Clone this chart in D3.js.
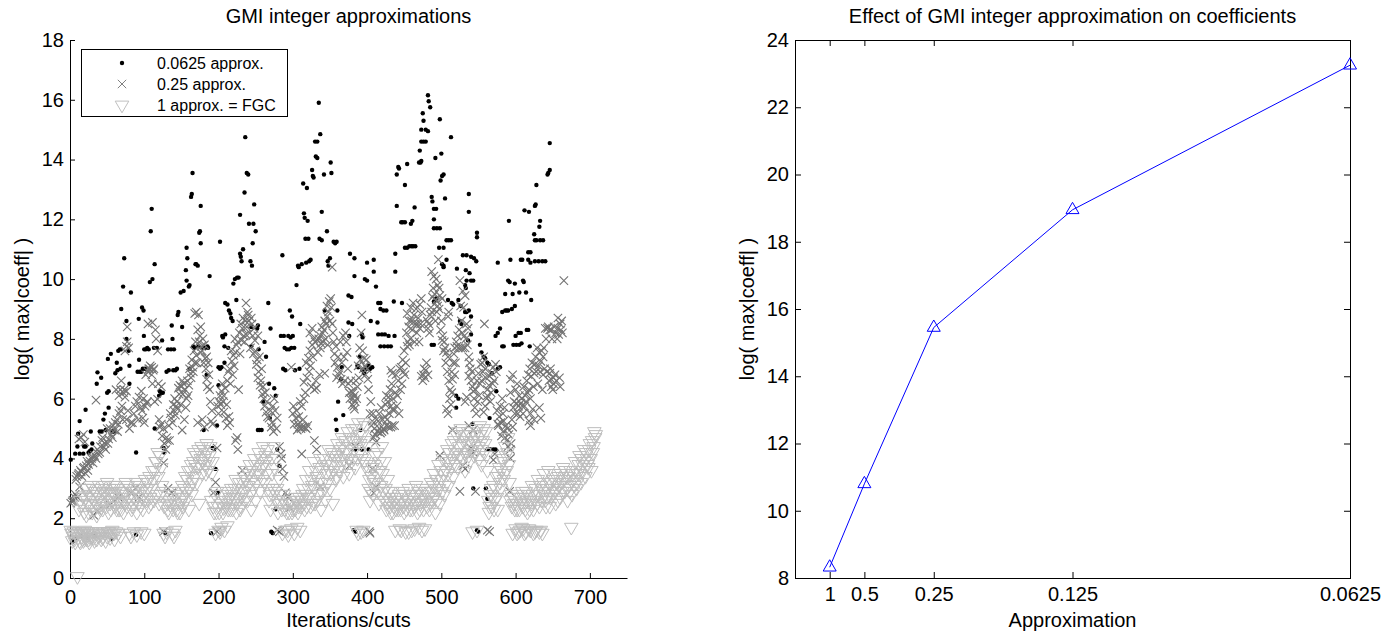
<!DOCTYPE html>
<html>
<head>
<meta charset="utf-8">
<script src="https://cdn.jsdelivr.net/npm/d3@7"></script>
<style>
  body { margin: 0; background: #fff; }
  svg { font-family: "Liberation Sans", Arial, Helvetica, sans-serif; }
</style>
</head>
<body>
<div id="wrapper"></div>
<script>
// left panel: log(max|coeff|) per iteration, three approximation levels
const dotsApprox0625 = [
  [1,3.96],[3,1.2],[5,1.3],[7,4.16],[8,1.35],[10,4.4],[11,4.83],[13,4.16],[13,5.25],[15,1.4],[18,4.16],[19,4.4],[21,4.4],[21,5.63],[24,1.35],[25,4.2],[27,4.25],[28,4.9],[29,4.3],[30,4.5],[33,1.4],[36,6.5],[37,6.88],[40,4.9],[42,6.7],[43,4.9],[45,5.3],[47,5.5],[48,4.95],[50,6.2],[51,7.33],[52,6.25],[52,5.7],[55,7.5],[56,1.3],[57,4.9],[59,4.9],[61,6.85],[63,7.2],[64,6.95],[65,7.6],[67,7.65],[68,7.0],[69,9.0],[69,7.65],[71.5,9.75],[73,10.7],[76,8.6],[76,8.0],[79,7.6],[80,7.1],[80,6.5],
  [82,9.55],[89,4.2],[89,1.45],[91,6.9],[92.6,8.67],[93,7.3],[94,6.9],[96,6.9],[97,9.05],[99,8.95],[99.5,8.1],[100,7.65],[98,7.0],[101,7.0],[102,7.65],[104,7.7],[106,7.65],[107.5,9.9],[108.7,11.6],[110,12.35],[111,10.0],[113,7.7],[114,10.5],[114,5.0],[117,7.7],[120,6.1],[121,6.25],[123,6.2],[124,7.95],[125,6.2],[126,4.35],[127,4.2],[128,1.5],
  [130,6.9],[132,7.65],[133,6.95],[136,7.65],[137,8.45],[138,8.0],[139,6.95],[140,7.65],[142,6.95],[144,7.0],[145,8.8],[146,8.9],[149,9.55],[151,8.4],[153,9.6],[156,10.3],[157,9.95],[157,11.05],[158,10.7],[160,9.75],[161,9.8],[161,7.0],[163,12.75],[164,12.85],[165,13.55],[166,7.75],[168,7.7],[169,10.5],[170,10.5],[172,10.45],[173,7.75],[174,11.55],[175,11.6],[176,12.45],[176,11.2],[179,7.7],[180,4.95],[182,7.7],[184,6.8],[185,7.75],[186,7.7],[188,10.1],[190,1.5],[192,4.35],[194,4.3],[196,3.65],[198,5.1],[199,2.85],[200,6.45],[200,7.05],[202,7.0],[202,11.25],[204,7.05],
  [205,8.1],[206,8.05],[208,7.75],[208,7.2],[209,8.15],[209,9.2],[212,9.15],[213,7.7],[214,8.95],[216,8.85],[217,8.7],[219,8.6],[220,9.85],[222,10.0],[224,9.3],[225,10.05],[227,10.05],[229,10.85],[230,10.75],[231,10.6],[229,12.15],[233,11.0],[235,12.9],[236,14.75],[238,13.55],[240,13.5],[241,11.85],[243,10.6],[244,8.4],[244,7.75],[245,10.45],[246,11.2],[247,11.85],[248,12.5],[250,11.6],[252,8.35],[253,8.45],[254,7.65],[253,4.95],[255,4.95],[258,4.95],[260,5.9],[262,7.9],[264,7.4],
  [267,9.2],[268,6.5],[269,5.35],[270,8.35],[271,1.55],[273,1.5],[275,6.35],[277,6.1],[277,2.3],[279,4.3],[282,3.75],[284,8.1],[286,10.8],[287,7.0],[288,8.1],[289,7.7],[290,6.95],[292,7.65],[294,8.1],[295,7.65],[296,8.95],[297,8.05],[298,7.7],[299,8.75],[300,8.1],[302,7.7],[303,6.95],
  [305,9.8],[307,10.45],[308,10.4],[309,7.0],[310,8.5],[312,10.5],[314,13.2],[315,12.2],[316,12.05],[317,11.35],[318,10.55],[319,13.05],[320,11.95],[321,11.35],[322,10.6],[324,10.65],[326,13.65],[327,13.45],[328,13.4],[330,14.6],[331,14.1],[333,14.6],[333,14.05],[335,15.9],[337,14.85],[336,11.35],[339,11.3],[339,12.25],[342,13.5],[343,8.95],[346,11.6],[347,10.6],[348,10.45],[350,10.7],[351,13.9],[352,13.55],[355,11.25],[357,11.2],[359,11.25],[358,5.3],[359,4.95],[360,8.95],[361,5.9],[365,6.65],[366,7.05],[368,5.45],
  [375,9.45],[379,9.4],[375,8.55],[376,8.1],[377,10.85],[380,8.5],[383,10.7],[383,10.1],[382,1.6],[384,1.55],[387,7.1],[388,7.05],[390,7.4],[393,8.15],[394,8.05],[394,6.95],[396,6.85],[399,7.0],[397,10.0],[400,10.55],[400,9.95],[402,7.1],[404,7.0],[405,8.6],[407,7.05],[409,10.65],[409,10.25],[412,9.75],[415,9.2],[418,9.2],[418,9.0],[422,8.95],[426,8.95],[414,8.55],[415,8.15],[420,8.15],[424,8.15],[429,8.1],[418,7.75],[423,7.75],[428,7.75],[432,7.75],[436,9.25],[437,8.1],[438,10.25],[438,10.85],[440,12.45],[440,13.5],[442,13.75],[443,13.7],[446,11.9],[447,9.2],[448,11.9],[451,11.9],[451,13.15],[454,13.85],[451,11.05],[454,11.05],[457,11.1],
  [384,4.3],[391,4.95],[393,4.3],[402,4.3],
  [460,11.1],[462,11.1],[465,11.1],[464,12.4],[459,11.85],[461,11.95],[470,13.9],[472,13.9],[473,13.95],[471,14.3],[473,14.6],[476,14.6],[479,14.6],[473,15.0],[476,15.3],[475,15.55],[479,15.0],[482,14.95],[482,16.15],[483,15.95],[485,15.75],[490,12.35],[493,12.35],[490,12.0],[490,11.7],[494,11.7],[498,11.7],[492,14.05],[498,15.35],[487,12.75],[488,12.6],[497,11.05],[503,11.05],[503,10.45],[507,10.65],[509,9.3],[490,9.25],[493,9.35],[487,7.8],[490,7.8],
  [500,14.2],[499,13.3],[501,13.45],[503,13.5],[505,12.7],[507,11.3],[510,11.3],[513,11.3],[513,14.75],[501,10.5],[503,10.4],[514,9.2],[516,9.15],[521,10.35],[523,9.3],[526,9.1],[525,8.6],[527,8.5],[520,6.1],[523,6.0],[520,5.7],[532,8.9],[534,8.9],[537,8.95],[532,9.8],[533,9.7],[529,10.8],[534,10.8],[534,9.95],[540,9.95],[533,10.3],[538,10.2],[537,12.85],[537,12.25],[540,10.75],[544,10.7],[547,10.6],[543,9.95],[548,11.55],[548,11.4],[540,8.75],[540,8.15],[536,7.95],[542,5.15],[543,3.0],[548,1.6],[550,1.55],
  [552,7.8],[554,7.55],[557,7.4],[559,7.35],[562,7.2],[564,7.15],[565,5.35],[562,2.65],[560,3.0],[562,4.3],[566,4.3],[570,4.3],[573,4.3],[568,6.85],[576,10.55],[573,8.1],[576,8.2],[579,8.35],[576,7.0],[579,7.05],[574,6.25],[582,7.75],[584,7.75],[582,8.9],[586,8.95],[588,8.95],[590,8.95],[586,9.5],[590,9.95],[592,9.9],[591,11.95],[593,10.65],[595,9.0],[599,9.1],[596,9.5],[597,7.8],[601,7.8],[599,9.85],[600,8.1],[605,9.55],[607,10.65],[609,10.65],[604,8.2],[607,8.2],[605,7.8],[608,7.85],[610,9.95],[611,9.9],[614,9.55],[617,10.65],[620,10.55],[612,12.3],[618,12.25],[617,10.9],[620,10.9],[619,7.75],[621,9.3],[626,12.45],[627,12.5],[628,13.15],[625,11.5],[626,11.3],[628,11.3],[633,11.3],[637,11.3],[626,10.6],[631,10.6],[636,10.6],[640,10.6],[632,11.75],[633,11.95],[643,13.5],[644,13.55],[646,13.65],[646,14.55],[615,8.3],[617,8.3]
]

const crossesApprox025 = [
  [1,2.5],[4,2.6],[7,2.8],[10,2.7],[13,3.05],[9,3.4],[12,3.5],[15,3.55],[18,3.67],[21,3.5],[12,4.65],[18,4.8],[23,3.9],[29,4.0],[35,4.0],[37,4.3],[35,5.95],[43,4.6],[48,4.3],[51,4.5],[57,4.7],[60,4.95],[63,5.3],[65,5.15],[68,6.3],[69,6.6],[73,6.3],[76,6.25],[71,5.3],[76,5.3],[76,7.75],[77,7.9],[77,8.4],[82,5.2],[88,5.75],[93,6.05],[96,6.25],[98,5.35],[101,5.75],[104,5.9],[107,7.0],[112,6.95],[111,8.55],[115,8.3],[114,5.9],[118,5.98],[119,6.5],[123,6.4],[123,5.15],[126,5.0],[129,4.3],[131,4.6],[134,4.6],[136,5.35],[140,5.6],[143,5.75],[144,5.9],[147,6.15],[148,6.45],[151,6.6],[154,5.3],[151,4.95],[157,6.0],[159,6.1],[162,6.85],[165,7.05],[168,7.2],[168,8.85],[170,8.9],[173,8.8],[170,7.45],[176,7.55],[175,8.1],[179,8.0],[177,7.75],[182,7.35],[184,7.4],[184,6.65],[187,6.8],[189,5.9],[190,5.25],[192,5.15],[193,2.85],[196,3.2],[198,1.55],[199,5.75],[201,5.9],[204,6.25],[207,6.1],[207,5.55],[210,5.35],[212,5.1],[215,5.2],[212,6.6],[215,7.0],[218,7.25],[220,7.45],[223,7.55],[223,4.6],[225,4.7],[226,4.3],[227,6.3],[231,7.95],[234,8.1],[237,8.15],[237,9.2],[240,8.8],[241,8.6],[245,8.5],[248,8.35],[249,7.95],[253,8.1],[251,7.15],[253,6.7],[256,6.45],[259,6.15],[262,5.75],[264,5.55],[268,5.35],[271,5.05],[273,5.75],[275,6.0],[279,5.35],[282,4.4],[284,4.15],[286,3.65],[290,2.85],[279,1.6],[282,1.55],[296,2.35],[298,7.05],[301,5.75],[304,5.35],[307,5.15],[309,5.05],[313,5.05],[318,5.0],[312,5.75],[315,6.0],[315,6.55],[318,7.2],[321,7.35],[323,7.6],[326,7.8],[323,8.2],[326,8.35],[329,4.6],[329,6.3],[332,6.35],[334,7.55],[337,7.7],[337,8.1],[340,8.2],[343,8.6],[346,8.75],[343,6.85],[346,9.1],[349,9.25],[351,9.35],[353,10.4],[354,8.2],[357,7.2],[360,7.05],[362,6.8],[365,6.65],[368,8.1],[371,8.2],[369,7.4],[373,7.55],[376,6.2],[379,6.25],[381,6.0],[384,5.9],[382,5.75],[383,5.65],[387,6.4],[390,7.7],[393,8.8],[396,7.35],[397,7.1],[400,7.0],[401,6.65],[403,1.55],[404,5.5],[407,5.25],[409,4.7],[412,4.55],[412,3.05],[415,5.25],[418,4.85],[420,4.9],[423,4.95],[426,5.1],[429,5.05],[432,5.05],[434,5.1],[437,5.1],[426,6.1],[429,6.05],[432,5.75],[434,5.65],[432,6.95],[434,6.85],[440,5.75],[443,5.5],[446,7.05],[447,6.5],[451,6.8],[454,7.75],[455,7.9],[457,7.8],[454,8.85],[457,8.6],[459,9.05],[462,9.2],[465,8.5],[468,8.5],[471,8.35],[471,9.15],[473,9.35],[473,6.75],[476,6.8],[479,6.95],[482,6.8],[482,8.35],[484,8.2],[486,9.05],[487,8.9],[487,10.25],[490,10.1],[493,10.0],[495,9.8],[497,9.7],[493,9.3],[494,9.25],[496,10.65],[498,9.45],[501,9.35],[501,7.95],[504,7.9],[507,7.55],[509,7.4],[509,8.75],[510,8.9],[507,5.65],[509,5.5],[512,6.3],[514,6.2],[515,6.65],[518,6.8],[518,7.7],[521,7.75],[523,7.7],[526,7.7],[529,7.7],[532,7.7],[525,9.95],[529,9.6],[532,9.45],[526,9.1],[530,9.05],[534,8.5],[536,8.35],[537,7.4],[537,6.75],[540,6.6],[534,6.05],[532,5.9],[537,5.1],[543,4.95],[529,3.75],[525,2.9],[532,3.65],[540,4.35],[543,4.2],[543,6.25],[546,6.3],[548,6.6],[550,6.85],[553,7.15],[555,7.2],[557,7.4],[558,8.5],[557,5.55],[559,5.75],[561,6.0],[562,6.1],[562,6.3],[564,6.45],[565,6.75],[568,6.85],[570,7.05],[573,7.15],[562,1.6],[565,1.55],[570,3.95],[572,4.15],[576,5.15],[577,5.1],[579,5.75],[582,6.0],[581,4.75],[583,4.9],[584,5.25],[587,5.1],[590,4.4],[593,4.3],[592,2.9],[596,5.05],[596,6.8],[593,6.65],[593,6.2],[597,5.7],[598,5.9],[601,5.85],[604,5.75],[607,5.85],[609,5.75],[612,5.75],[614,5.9],[616,6.2],[618,6.3],[618,5.25],[620,5.1],[620,5.5],[623,5.65],[621,6.75],[625,6.85],[626,7.15],[627,7.4],[629,7.7],[632,7.55],[632,5.7],[634,5.35],[634,7.25],[637,7.4],[637,6.8],[640,8.35],[643,8.35],[644,8.4],[646,8.3],[648,8.3],[646,6.85],[648,6.65],[651,6.7],[648,6.4],[651,6.5],[654,8.2],[657,8.35],[657,8.7],[658,8.15],[660,8.5],[662,8.6],[665,9.95],
  [32,2.1],[37,2.25],[54,2.45],[65,2.7],[82,2.85],[88,3.0],[93,2.7],[126,3.85],[132,3.0],[137,2.85],[126,1.55],[198,4.35],[232,3.6],[293,2.7],[312,4.15],[332,4.3],[337,3.05],[376,3.75],[384,4.4],[404,1.5],[407,3.65],[409,2.85],[498,4.1],[515,4.95],[546,2.9],[593,4.0],
  [40,4.2],[45,4.4],[50,5.0],[55,4.8],[25,3.8],[30,4.05],[68,5.6],[97,5.6],[103,5.85],[105,8.5],[106,7.0],[110,7.05],[111,6.5],
  [3,2.55],[6,2.7],[8,3.3],[11,3.45],[14,3.6],[16,3.4],[19,3.7],[22,3.75],[24,3.6],[27,3.9],[31,3.85],[33,4.1],[38,4.15],[41,4.4],[20,4.55],[15,4.7],
  [44,4.7],[47,4.5],[52,4.65],[54,5.0],[58,5.1],[61,5.2],[64,4.9],[66,5.5],[70,5.75],[72,6.2],[74,6.05],[78,5.6],[80,5.0],[84,5.2],[86,5.5],[90,5.9],[92,5.3],[95,5.7],[99,6.0],[100,5.2],[62,6.3],[66,6.1],[74,7.6],[79,7.7],
  [102,6.8],[105,6.9],[108,7.1],[110,6.8],[113,7.0],[116,8.0],[118,7.6],[120,5.3],[121,5.05],[124,4.75],[127,4.5],[130,4.7],[133,5.1],[135,5.5],[138,5.2],[139,5.8],[141,6.0],[142,5.45],[145,5.65],[146,6.35],[149,5.8],[150,6.4],[152,6.15],[153,6.5],[155,6.3],[156,5.7],[158,6.6],[160,6.45],[161,7.0],[163,6.7],[164,7.3],[166,6.9],[167,7.6],[169,7.9],[171,7.2],[172,8.3],[174,7.9],[176,8.4],[178,7.6],[180,7.2],[181,7.8],[183,7.0],[185,6.4],[186,7.2],[188,6.3],[191,5.6],[178,5.3],[181,5.05],[172,5.2],
  [200,5.5],[202,6.1],[203,5.8],[205,6.5],[206,5.9],[209,6.35],[211,5.8],[213,6.9],[214,5.4],[216,6.5],[217,7.6],[219,6.8],[221,7.1],[222,8.0],[224,7.8],[226,7.9],[228,8.2],[229,7.5],[230,8.5],[232,8.35],[233,8.7],[235,7.9],[236,8.6],[238,8.4],[239,8.9],[242,8.2],[243,7.7],[244,8.7],[246,8.1],[247,7.5],[250,7.6],[252,7.3],[254,6.9],[255,7.4],[257,6.6],[258,7.0],[260,6.4],[261,6.0],[263,6.2],[265,5.9],[266,5.4],[270,5.6],[272,5.2],[274,4.9],[276,5.6],[278,5.0],
  [285,4.0],[288,3.4],[300,5.5],[302,5.15],[305,5.6],[306,4.95],[308,5.4],[310,5.9],[311,5.0],[314,5.3],[316,5.05],[317,6.2],[319,6.7],[320,5.1],[322,6.9],[324,7.1],[325,6.4],[327,7.4],[328,8.0],[330,7.9],[331,6.6],[333,7.95],[335,8.0],[336,6.8],[338,7.85],[339,8.4],[341,7.9],[342,8.3],[344,8.0],[345,8.5],[347,7.8],[348,8.9],[350,8.6],[352,9.05],[353,8.5],[355,7.9],[356,7.5],[358,7.75],[359,6.7],[361,7.4],[363,6.9],[364,7.9],[366,7.2],
  [367,6.5],[370,6.6],[372,7.9],[374,7.0],[375,6.5],[377,6.0],[378,6.6],[380,5.8],[381,6.2],[383,6.1],[385,6.6],[386,6.0],[388,7.1],[389,6.7],[391,7.3],[392,8.2],[394,7.6],[395,7.0],[398,6.8],[399,7.3],[402,6.3],[405,5.9],[406,5.1],[408,5.5],[410,5.0],[411,4.8],[413,5.3],[414,4.9],[416,5.5],[417,5.0],[419,5.7],[421,5.3],[422,5.0],[424,5.4],[425,5.8],[427,5.3],[428,5.9],[430,5.5],[431,6.3],[433,6.5],[435,6.0],[436,5.6],[438,6.2],[439,6.8],[441,6.1],[442,6.6],[444,7.0],[445,6.3],[448,7.3],[449,6.9],[450,7.6],[452,7.2],[453,8.2],[456,8.4],[458,8.0],
  [460,8.6],[461,8.3],[463,8.8],[464,7.9],[466,9.0],[467,8.2],[469,8.7],[470,7.9],[472,8.5],[474,8.9],[475,6.6],[477,7.0],[478,6.7],[480,7.2],[481,8.6],[483,8.5],[485,8.8],[488,9.4],[489,9.7],[491,9.5],[492,8.6],[494,8.9],[495,9.1],[497,9.0],[499,8.3],[500,8.6],[502,8.1],[503,7.6],[505,7.7],[506,7.2],[508,6.9],[510,6.6],[511,6.0],[513,5.8],[514,6.9],[516,7.2],[517,7.5],[519,7.2],[520,7.9],[522,8.1],[524,8.3],[527,8.6],[528,8.2],[531,8.1],[533,8.0],[535,7.8],[538,7.2],[539,7.0],[541,6.9],[542,6.4],[544,6.0],[545,5.7],[547,5.5],[549,5.9],[551,6.1],[552,6.5],[554,6.6],[556,6.9],[559,7.0],[560,6.7],
  [566,5.9],[567,6.2],[569,6.5],[571,6.6],[574,6.9],[575,5.6],[578,5.4],[580,5.2],[583,5.5],[585,5.7],[586,4.7],[588,4.6],[589,5.0],[591,4.8],[594,4.5],[595,5.3],[599,5.5],[600,6.3],[602,6.5],[603,5.5],[605,6.1],[606,5.4],[608,6.0],[610,5.5],[611,6.4],[613,6.1],[615,6.6],[617,6.8],[619,7.0],[620,6.0],[622,7.2],[624,6.4],[625,5.3],[628,6.9],[630,6.5],[631,7.1],[633,6.9],[635,7.6],[636,6.3],[638,7.7],[639,7.0],[641,8.0],[642,6.9],[645,6.6],[647,7.0],[649,8.0],[650,6.3],[652,8.4],[653,6.8],[655,6.6],[656,8.0],[659,6.7],[660,6.4],[661,8.3],[663,8.2]
]

const trianglesFgc = [
  [2,1.5],[4,1.4],[6,1.3],[8,1.45],[10,0.05],[11,1.35],[13,1.25],[15,1.4],[17,1.3],[19,1.5],[21,1.35],[23,1.45],[25,1.3],[27,1.5],[29,1.4],[32,1.35],[35,1.5],[38,1.4],[41,1.45],[44,1.35],[47,1.5],[50,1.4],[53,1.55],[56,1.45],[59,1.5],[62,1.55],
  [14,2.6],[17,2.75],[20,3.0],[22,2.1],[24,2.5],[26,2.8],[28,3.1],[30,2.2],[32,2.6],[34,2.9],[36,2.1],[38,2.4],[40,2.7],[42,3.0],[44,2.3],[46,2.6],[48,2.9],[50,3.2],[52,2.2],[54,2.5],[56,2.8],[58,3.1],[60,2.4],[62,2.7],[64,3.0],[66,2.3],[68,2.6],[70,2.9],
  [72,2.2],[74,2.5],[76,2.8],[78,3.1],[80,1.5],[82,1.4],[86,1.55],[90,1.45],[96,1.55],[100,1.5],[84,2.4],[86,2.7],[88,3.0],[90,2.2],[92,2.5],[94,2.8],[98,2.3],[100,2.6],[102,2.9],[104,3.2],[106,2.4],[108,2.7],[110,3.0],[112,3.3],[114,3.6],[116,3.9],[118,4.2],[120,2.5],[122,2.8],[124,3.1],[126,1.5],[128,1.4],[130,1.55],[132,2.3],[134,2.6],[136,2.9],
  [138,1.5],[140,1.4],[142,1.6],[144,2.3],[146,2.5],[148,2.2],[150,2.7],[152,2.4],[154,3.0],[156,2.6],[158,3.3],[160,2.3],[162,3.6],[164,2.8],[166,3.9],[168,3.4],[170,4.1],[172,3.7],[174,2.5],[176,4.0],[178,3.5],[180,4.3],[182,3.8],[184,4.5],[186,3.6],[188,4.1],[190,2.6],[192,3.9],[194,2.2],[196,1.5],[198,2.9],[200,1.6],
  [202,1.55],[204,1.7],[206,2.2],[208,1.6],[210,2.4],[212,1.75],[214,2.6],[216,2.3],[218,2.8],[220,2.5],[222,3.0],[224,2.2],[226,2.7],[228,3.2],[230,2.4],[232,2.9],[234,3.4],[236,2.6],[238,3.6],[240,3.1],[242,3.8],[244,2.3],[246,3.3],[248,4.0],[250,2.6],[252,3.5],[254,4.2],[256,2.9],[258,3.7],[260,4.4],[262,3.2],[264,3.9],[266,4.3],[268,2.6],
  [270,2.3],[272,3.5],[274,4.4],[276,2.9],[278,4.0],[280,2.2],[282,3.3],[284,2.5],[286,1.5],[288,2.8],[290,1.6],[292,2.2],[294,1.45],[296,2.5],[298,1.65],[300,2.3],[302,1.5],[304,2.7],[306,1.7],[308,2.4],[310,1.6],
  [312,2.6],[314,3.0],[316,2.3],[318,3.3],[320,2.7],[322,3.6],[324,2.4],[326,3.1],[328,3.9],[330,2.5],[332,3.4],[334,2.8],[336,3.7],[338,2.3],[340,3.2],[342,4.0],[344,2.6],[346,3.5],[348,4.3],[350,3.0],[352,3.8],[354,2.5],[356,4.1],[358,3.3],[360,4.5],[362,3.6],[364,4.0],[366,4.7],[368,3.4],[370,4.2],[372,3.8],[374,4.9],[376,3.5],[378,4.4],[380,5.0],[382,4.0],[384,3.7],[386,4.6],[388,5.2],[390,4.2],[392,1.55],[394,4.8],[396,3.9],[398,5.1],[400,4.4],
  [402,3.0],[404,2.6],[406,3.4],[408,2.8],[410,3.8],[412,3.2],[414,4.2],[416,2.5],[418,3.6],[420,4.4],[422,2.9],[424,3.9],[426,2.3],[428,3.3],[430,2.6],[432,2.2],[434,2.9],[436,2.4],[438,1.6],[440,2.7],[442,2.3],[444,1.65],[446,2.5],[448,2.9],[450,2.2],[452,1.55],[454,2.6],[456,3.0],[458,2.3],[460,1.6],[462,2.7],[464,2.4],[466,3.1],[468,2.2],[470,1.7],[472,2.5],[474,2.8],[476,2.3],[478,1.65],[480,2.6],
  [482,2.9],[484,2.3],[486,3.2],[488,2.6],[490,3.5],[492,2.2],[494,3.0],[496,3.8],[498,2.5],[500,3.3],[502,4.0],[504,2.8],[506,3.6],[508,4.3],[510,3.1],[512,3.9],[514,4.5],[516,3.4],[518,4.2],[520,4.8],[522,3.7],[524,4.4],[526,5.0],[528,4.0],[530,4.6],[532,3.6],[534,4.2],[536,4.9],[538,3.9],[540,4.5],[542,1.55],[544,4.1],[546,4.8],[548,1.6],[550,4.4],[552,5.1],[554,3.8],[556,4.6],[558,4.2],[560,4.9],[562,3.6],
  [564,2.2],[566,2.8],[568,2.4],[570,3.1],[572,2.6],[574,3.4],[576,2.3],[578,3.7],[580,3.0],[582,4.0],[584,3.3],[586,4.4],[588,3.6],[590,4.7],[592,3.2],[594,2.8],[596,1.5],[598,2.5],[600,1.65],[602,2.3],[604,1.55],[606,2.7],[608,1.7],[610,2.4],[612,1.5],[614,2.9],[616,2.2],[618,1.65],[620,2.6],[622,3.1],[624,2.3],[626,1.55],[628,2.8],[630,3.3],[632,2.4],[634,1.6],[636,2.9],[638,3.5],[640,2.6],
  [642,3.0],[644,3.6],[646,2.4],[648,3.2],[650,2.8],[652,3.5],[654,2.5],[656,3.0],[658,3.4],[660,2.7],[662,3.2],[664,3.7],[666,2.9],[668,3.4],[670,2.6],[672,3.1],[674,3.6],[675,1.7],[676,2.8],[678,3.3],[680,3.9],[682,3.0],[684,3.5],[686,4.1],[688,3.2],[690,3.8],[692,4.3],[694,3.4],[696,4.0],[698,3.7],[700,4.5],[702,3.6],[704,4.2],[706,4.9],[708,4.8],
  [1,1.6],[3,1.25],[5,1.55],[7,1.2],[9,1.5],[12,1.55],[14,1.2],[16,1.55],[18,1.25],[20,1.6],[22,1.3],[24,1.55],[26,1.2],[28,1.35],[30,1.55],[33,1.25],[36,1.3],[39,1.55],[42,1.3],[45,1.55],[48,1.25],[51,1.55],[54,1.35],[57,1.6],[60,1.3],[65,1.5],[68,1.4],
  [12,2.3],[16,2.45],[19,2.2],[21,2.7],[23,3.0],[25,2.2],[27,2.45],[29,2.7],[31,3.0],[33,2.3],[35,2.5],[37,2.8],[39,3.1],[41,2.3],[43,2.5],[45,2.85],[47,3.1],[49,2.4],[51,2.7],[53,3.0],[55,2.3],[57,2.6],[59,2.85],[61,3.1],[63,2.3],[65,2.55],[67,2.9],[69,2.3],[71,2.6],[73,2.9],[75,3.2],[77,2.4],[79,2.7],[81,3.0],[83,2.3],[85,2.5],[87,2.9],[89,3.2],[91,2.8],[93,3.1],[95,2.4],[97,2.7],[99,3.0],[101,3.3],[103,2.6],[105,3.0],[107,3.4],[109,2.5],[111,3.6],[113,2.6],[115,3.9],[117,2.8],[119,3.4],[121,4.1],[123,3.7],[125,2.9],[127,2.4],
  [131,2.5],[133,2.2],[135,2.45],[137,2.7],[139,2.3],[141,2.5],[143,2.8],[145,2.2],[147,2.9],[149,2.5],[151,3.1],[153,2.7],[155,3.4],[157,2.9],[159,3.6],[161,3.0],[163,3.8],[165,3.2],[167,4.2],[169,3.7],[171,3.2],[173,4.3],[175,3.8],[177,4.4],[179,3.9],[181,4.0],[183,3.5],[185,4.2],[187,3.9],[189,4.4],[191,3.5],[193,2.4],[195,2.8],[197,2.2],[199,2.4],[201,2.2],[203,2.5],[205,2.8],[207,2.35],[209,2.6],[211,2.9],[213,2.3],[215,2.7],[217,3.0],[219,2.3],[221,2.7],[223,3.3],[225,2.5],[227,3.0],[229,2.3],[231,2.7],[233,3.2],[235,2.9],[237,3.3],[239,2.6],[241,3.5],[243,2.8],[245,3.6],[247,3.0],[249,3.8],[251,3.2],[253,3.8],[255,3.5],[257,4.0],[259,3.3],[261,3.8],[263,4.1],[265,3.5],[267,3.0],[269,2.8],
  [271,4.0],[273,3.0],[275,3.7],[277,2.6],[279,3.0],[281,2.5],[283,2.8],[285,2.3],[287,2.6],[289,2.3],[291,2.5],[293,1.6],[295,2.2],[297,2.6],[299,2.2],[301,2.5],[303,2.3],[305,2.6],[307,2.2],[309,2.7],[311,2.4],[313,2.8],[315,2.5],[317,2.8],[319,2.4],[321,3.0],[323,2.7],[325,3.3],[327,2.5],[329,3.0],[331,3.6],[333,2.6],[335,3.2],[337,4.0],[339,2.9],[341,3.6],[343,3.0],[345,3.8],[347,3.2],[349,4.0],[351,3.5],[353,4.2],[355,3.6],[357,3.9],[359,3.4],[361,4.1],[363,4.3],[365,3.8],[367,4.4],[369,4.0],[371,4.6],[373,4.2],[375,4.0],[377,4.7],[379,3.9],[381,4.6],[383,4.3],[385,5.0],[387,4.0],[389,4.8],[391,4.5],[393,4.0],[395,5.2],[397,4.6],[399,3.8],[386,1.6],[388,1.5],[395,1.6],
  [401,3.6],[403,3.3],[405,2.9],[407,3.7],[409,3.2],[411,4.1],[413,3.5],[415,2.9],[417,3.9],[419,3.1],[421,3.5],[423,2.6],[425,3.0],[427,2.5],[429,2.9],[431,2.4],[433,2.7],[435,2.2],[437,2.6],[439,2.3],[441,2.5],[443,2.8],[445,2.3],[447,2.6],[449,2.4],[451,2.8],[453,2.3],[455,2.6],[457,2.5],[459,2.8],[461,2.3],[463,2.5],[465,2.8],[467,2.5],[469,2.9],[471,2.3],[473,2.6],[475,3.0],[477,2.6],[479,2.9],[481,2.4],[483,2.7],[485,2.5],[487,2.9],[489,3.1],[491,2.7],[493,3.3],[495,2.6],[497,3.0],[499,3.6],[501,2.9],[503,3.5],[505,3.1],[507,3.9],[509,3.5],[511,4.2],[513,3.7],[515,4.0],[517,4.6],[519,3.8],[521,4.2],[523,4.9],[525,4.1],[527,4.5],[529,4.8],[531,4.2],[533,4.8],[535,4.5],[537,4.1],[539,4.8],[541,4.3],[543,4.6],[545,4.2],[547,5.0],[549,4.6],[551,4.0],[553,4.8],[555,4.3],[557,5.0],[559,4.5],[561,4.1],[446,1.6],[456,1.55],[464,1.65],[474,1.6],
  [563,2.6],[565,2.4],[567,3.0],[569,2.7],[571,2.3],[573,3.0],[575,2.7],[577,3.4],[579,3.2],[581,3.6],[583,3.9],[585,3.5],[587,4.1],[589,4.2],[591,3.8],[593,2.6],[595,2.4],[597,2.7],[599,2.3],[601,2.5],[603,2.8],[605,2.3],[607,2.5],[609,2.9],[611,2.7],[613,2.3],[615,2.6],[617,2.8],[619,2.3],[621,2.5],[623,2.8],[625,2.6],[627,3.0],[629,2.5],[631,2.8],[633,3.1],[635,2.6],[637,3.2],[639,2.8],[602,1.5],[606,1.6],[610,1.65],[614,1.55],[620,1.6],[624,1.5],[628,1.6],[632,1.55],[636,1.5],
  [641,2.4],[643,2.7],[645,3.2],[647,2.7],[649,3.0],[651,3.3],[653,2.9],[655,3.2],[657,2.6],[659,3.1],[661,3.5],[663,2.9],[665,3.3],[667,3.6],[669,3.0],[671,3.4],[673,2.9],[677,3.5],[679,3.1],[681,3.6],[683,3.2],[685,3.8],[687,3.5],[689,4.0],[691,3.6],[693,3.9],[695,4.2],[697,3.8],[699,4.3],[701,4.0],[703,4.6],[705,4.4],[707,4.7]
]

const legendLabels = ['0.0625 approx.', '0.25 approx.', '1 approx. = FGC']

// right panel
const approxLabels = ['1', '0.5', '0.25', '0.125', '0.0625']
const approxValues = [1, 0.5, 0.25, 0.125, 0.0625]
const maxCoeffLog = [8.32, 10.8, 15.45, 18.95, 23.25]

const svg = d3.select('#wrapper')
  .append('svg')
  .attr('width', 1381)
  .attr('height', 638)

const crossPath = 'M-4.2,-4.2L4.2,4.2M-4.2,4.2L4.2,-4.2'
const downTriangle = 'M-6.8,-3.9L6.8,-3.9L0,7.8Z'
const upTriangle = 'M0,-7.5L6.5,3.8L-6.5,3.8Z'

function styleAxis(g) {
  g.attr('font-size', 20).attr('font-family', null)
  g.selectAll('line').attr('stroke', '#000')
  g.selectAll('path').attr('stroke', '#000')
}

// ---- left panel ----
const left = { x0: 70, x1: 627, y0: 40, y1: 578 }

const xLeft = d3.scaleLinear().domain([0, 750]).range([left.x0, left.x1])
const yLeft = d3.scaleLinear().domain([0, 18]).range([left.y1, left.y0])

const gLeft = svg.append('g')

gLeft.append('g')
  .attr('transform', `translate(0,${left.y1})`)
  .call(d3.axisBottom(xLeft)
    .tickValues(d3.range(0, 701, 100))
    .tickSizeInner(-5).tickSizeOuter(0).tickPadding(12))
  .call(styleAxis)

gLeft.append('g')
  .attr('transform', `translate(${left.x0},0)`)
  .call(d3.axisLeft(yLeft)
    .tickValues(d3.range(0, 19, 2))
    .tickSizeInner(-5).tickSizeOuter(0).tickPadding(6))
  .call(styleAxis)

gLeft.append('g').selectAll('circle')
  .data(dotsApprox0625)
  .enter().append('circle')
  .attr('cx', d => xLeft(d[0]))
  .attr('cy', d => yLeft(d[1]))
  .attr('r', 2.2)
  .attr('fill', '#000')

gLeft.append('g').selectAll('path')
  .data(crossesApprox025)
  .enter().append('path')
  .attr('transform', d => `translate(${xLeft(d[0])},${yLeft(d[1])})`)
  .attr('d', crossPath)
  .attr('fill', 'none')
  .attr('stroke', '#737373')
  .attr('stroke-width', 1.1)

gLeft.append('g').selectAll('path')
  .data(trianglesFgc)
  .enter().append('path')
  .attr('transform', d => `translate(${xLeft(d[0])},${yLeft(d[1])})`)
  .attr('d', downTriangle)
  .attr('fill', 'none')
  .attr('stroke', '#bdbdbd')
  .attr('stroke-width', 1)

gLeft.append('text')
  .attr('x', (left.x0 + left.x1) / 2)
  .attr('y', 23)
  .attr('text-anchor', 'middle')
  .attr('font-size', 20)
  .text('GMI integer approximations')

gLeft.append('text')
  .attr('x', (left.x0 + left.x1) / 2)
  .attr('y', 627)
  .attr('text-anchor', 'middle')
  .attr('font-size', 20)
  .text('Iterations/cuts')

gLeft.append('text')
  .attr('transform', `translate(29,${(left.y0 + left.y1) / 2}) rotate(-90)`)
  .attr('text-anchor', 'middle')
  .attr('font-size', 20)
  .text('log( max|coeff| )')

// legend
const legend = gLeft.append('g')
legend.append('rect')
  .attr('x', 81.5).attr('y', 49.5)
  .attr('width', 206).attr('height', 67)
  .attr('fill', '#fff').attr('stroke', '#000')

const rows = legend.selectAll('g.row')
  .data(legendLabels)
  .enter().append('g')
  .attr('class', 'row')
  .attr('transform', (d, i) => `translate(122,${63 + i * 21})`)

rows.append('text')
  .attr('x', 35)
  .attr('dy', '0.35em')
  .attr('font-size', 16)
  .text(d => d)

rows.filter((d, i) => i === 0).append('circle')
  .attr('r', 2.2).attr('fill', '#000')
rows.filter((d, i) => i === 1).append('path')
  .attr('d', crossPath).attr('fill', 'none').attr('stroke', '#808080')
rows.filter((d, i) => i === 2).append('path')
  .attr('d', downTriangle).attr('fill', 'none').attr('stroke', '#c0c0c0')

// ---- right panel ----
const right = { x0: 795, x1: 1350, y0: 40, y1: 578 }

const xRight = d3.scaleLinear().domain([0, 16]).range([right.x0, right.x1])
const yRight = d3.scaleLinear().domain([8, 24]).range([right.y1, right.y0])

const gRight = svg.append('g')
const xTicks = approxValues.map(v => 1 / v)

gRight.append('rect')
  .attr('x', right.x0 + 0.5).attr('y', right.y0 + 0.5)
  .attr('width', right.x1 - right.x0).attr('height', right.y1 - right.y0)
  .attr('fill', 'none').attr('stroke', '#000')

gRight.append('g')
  .attr('transform', `translate(0,${right.y1})`)
  .call(d3.axisBottom(xRight)
    .tickValues(xTicks)
    .tickFormat((d, i) => approxLabels[i])
    .tickSizeInner(-6).tickSizeOuter(0).tickPadding(9))
  .call(styleAxis)

gRight.append('g')
  .attr('transform', `translate(0,${right.y0})`)
  .call(d3.axisTop(xRight)
    .tickValues(xTicks).tickFormat('')
    .tickSizeInner(-6).tickSizeOuter(0))
  .call(styleAxis)

gRight.append('g')
  .attr('transform', `translate(${right.x0},0)`)
  .call(d3.axisLeft(yRight)
    .tickValues(d3.range(8, 25, 2))
    .tickSizeInner(-6).tickSizeOuter(0).tickPadding(6))
  .call(styleAxis)

gRight.append('g')
  .attr('transform', `translate(${right.x1},0)`)
  .call(d3.axisRight(yRight)
    .tickValues(d3.range(8, 25, 2)).tickFormat('')
    .tickSizeInner(-6).tickSizeOuter(0))
  .call(styleAxis)

const effect = approxValues.map((v, i) => ({ inv: 1 / v, value: maxCoeffLog[i] }))

const line = d3.line()
  .x(d => xRight(d.inv))
  .y(d => yRight(d.value))

gRight.append('path')
  .datum(effect)
  .attr('d', line)
  .attr('fill', 'none')
  .attr('stroke', '#0000ff')
  .attr('stroke-width', 1)

gRight.append('g').selectAll('path')
  .data(effect)
  .enter().append('path')
  .attr('transform', d => `translate(${xRight(d.inv)},${yRight(d.value)})`)
  .attr('d', upTriangle)
  .attr('fill', 'none')
  .attr('stroke', '#0000ff')
  .attr('stroke-width', 1)

gRight.append('text')
  .attr('x', (right.x0 + right.x1) / 2)
  .attr('y', 23)
  .attr('text-anchor', 'middle')
  .attr('font-size', 20)
  .text('Effect of GMI integer approximation on coefficients')

gRight.append('text')
  .attr('x', (right.x0 + right.x1) / 2)
  .attr('y', 627)
  .attr('text-anchor', 'middle')
  .attr('font-size', 20)
  .text('Approximation')

gRight.append('text')
  .attr('transform', `translate(754,${(right.y0 + right.y1) / 2}) rotate(-90)`)
  .attr('text-anchor', 'middle')
  .attr('font-size', 20)
  .text('log( max|coeff| )')
</script>
</body>
</html>
